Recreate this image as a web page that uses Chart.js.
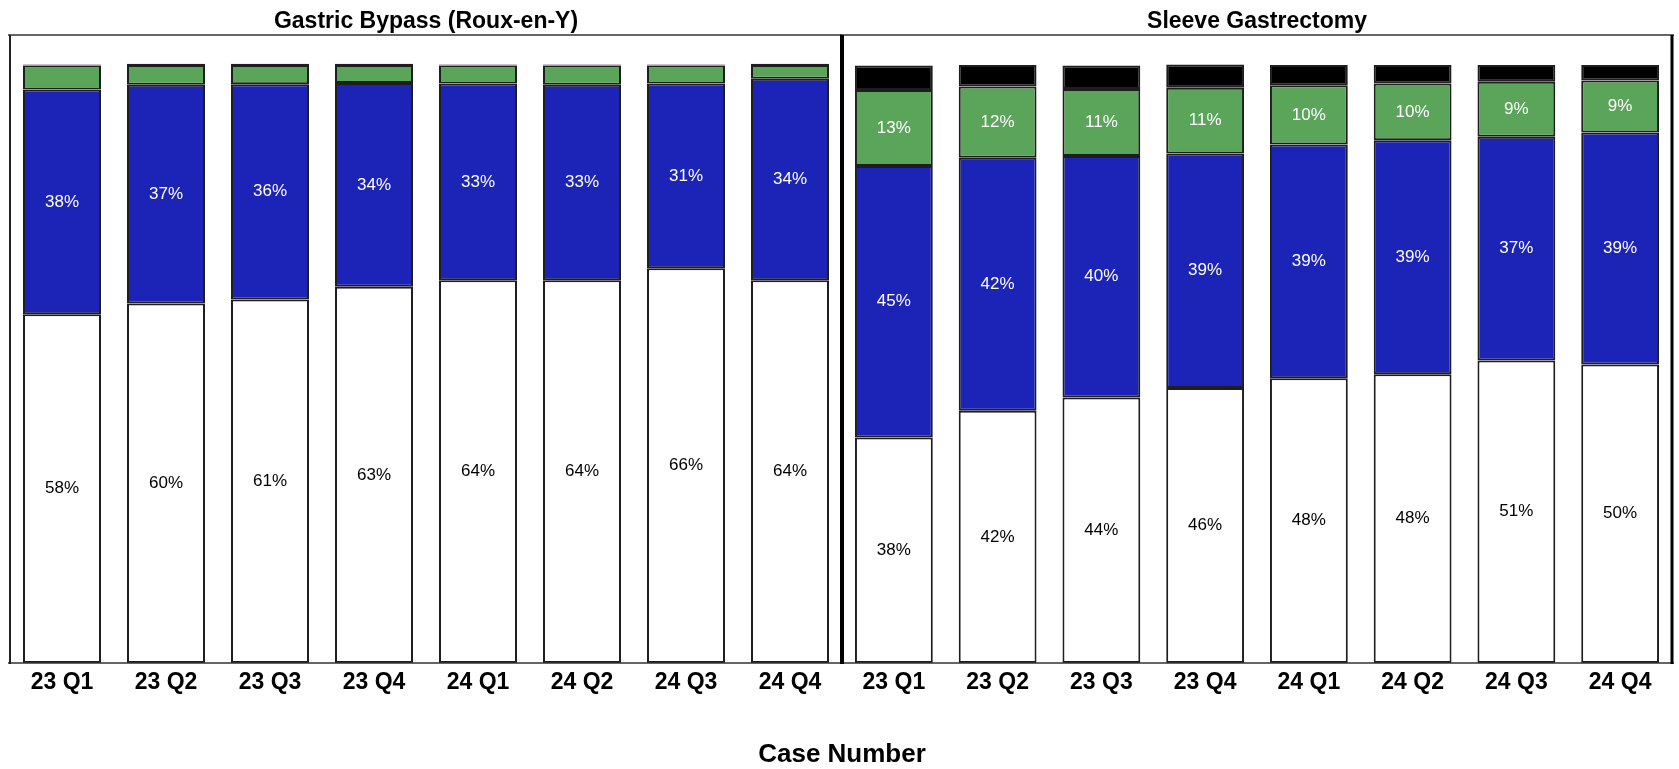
<!DOCTYPE html>
<html>
<head>
<meta charset="utf-8">
<script src="https://cdn.jsdelivr.net/npm/chart.js@4.4.1/dist/chart.umd.min.js"></script>
<style>
  body { margin: 0; background: #fff; width: 1679px; height: 769px; overflow: hidden; position: relative; }
  .panel { position: absolute; top: 0; height: 769px; }
  #leftWrap { left: 0; width: 842px; }
  #rightWrap { left: 840px; width: 839px; }
  #xTitle {
    position: absolute; left: 0; width: 1684px; top: 738px;
    text-align: center; font: bold 26px "Liberation Sans", Arial, sans-serif; color: #000;
  }
</style>
</head>
<body>
<div class="panel" id="leftWrap"><canvas id="bypass"></canvas></div>
<div class="panel" id="rightWrap"><canvas id="sleeve"></canvas></div>
<div id="xTitle">Case Number</div>
<script>
const FONT = '"Liberation Sans", Arial, sans-serif';

const quarters = ["23 Q1", "23 Q2", "23 Q3", "23 Q4", "24 Q1", "24 Q2", "24 Q3", "24 Q4"];

// Gastric Bypass (Roux-en-Y), bottom to top
const bypassWhite = [58.3, 60.1, 60.8, 62.9, 64.0, 64.0, 66.0, 64.0];
const bypassBlue = [37.6, 36.6, 36.0, 34.1, 32.9, 32.7, 30.9, 33.7];
const bypassGreen = [4.0, 3.3, 3.2, 3.0, 3.0, 3.2, 3.0, 2.3];
const bypassBlack = [0.2, 0.2, 0.2, 0.2, 0.2, 0.2, 0.2, 0.2];

// Sleeve Gastrectomy, bottom to top
const sleeveWhite = [37.7, 42.2, 44.4, 46.0, 47.6, 48.3, 50.6, 49.9];
const sleeveBlue = [45.4, 42.3, 40.4, 39.2, 39.1, 39.1, 37.4, 38.8];
const sleeveGreen = [12.7, 11.9, 11.2, 11.0, 9.9, 9.5, 9.2, 8.7];
const sleeveBlack = [4.1, 3.6, 3.9, 3.9, 3.4, 3.1, 2.8, 2.6];

const colors = ["#ffffff", "#1c24b8", "#5aa55a", "#000000"];
const labelColors = ["#000000", "#ffffff", "#ffffff", "#ffffff"];

// outline round the plot area, per side
const framePlugin = {
  id: "frame",
  afterDraw(chart, args, opts) {
    const { ctx, chartArea: a } = chart;
    const line = (x1, y1, x2, y2, color, w) => {
      ctx.beginPath();
      ctx.strokeStyle = color;
      ctx.lineWidth = w;
      ctx.moveTo(x1, y1);
      ctx.lineTo(x2, y2);
      ctx.stroke();
    };
    ctx.save();
    line(a.left - 2, a.top, a.right + 2, a.top, "#333", 1.5);
    line(a.left - 2, a.bottom, a.right + 2, a.bottom, "#333", 1.5);
    if (opts.left) line(a.left, a.top, a.left, a.bottom + 1, opts.left.color, opts.left.width);
    if (opts.right) line(a.right, a.top, a.right, a.bottom + 1, opts.right.color, opts.right.width);
    ctx.restore();
  },
};

// percent text in the middle of each labelled segment
const segmentLabels = {
  id: "segmentLabels",
  afterDatasetsDraw(chart, args, opts) {
    const ctx = chart.ctx;
    ctx.save();
    ctx.font = "17px " + FONT;
    ctx.textAlign = "center";
    ctx.textBaseline = "middle";
    opts.show.forEach((di) => {
      const meta = chart.getDatasetMeta(di);
      const values = chart.data.datasets[di].data;
      meta.data.forEach((bar, i) => {
        const { x, y, base } = bar.getProps(["x", "y", "base"], true);
        ctx.fillStyle = labelColors[di];
        ctx.fillText(Math.round(values[i]) + "%", x, (y + base) / 2);
      });
    });
    ctx.restore();
  },
};

function makeChart(id, title, series, show, padding, frame) {
  return new Chart(document.getElementById(id), {
    type: "bar",
    data: {
      labels: quarters,
      datasets: series.map((values, i) => ({
        data: values,
        backgroundColor: colors[i],
        borderColor: "#1e1e1e",
        borderWidth: 2,
        borderSkipped: false,
        barPercentage: 0.75,
        categoryPercentage: 1,
      })),
    },
    options: {
      responsive: true,
      maintainAspectRatio: false,
      animation: false,
      layout: { padding: padding },
      plugins: {
        legend: { display: false },
        tooltip: { enabled: false },
        title: {
          display: true,
          text: title,
          color: "#000",
          font: { family: FONT, size: 23, weight: "bold" },
          padding: { top: 7.5, bottom: 0 },
        },
        frame: frame,
        segmentLabels: { show: show },
      },
      scales: {
        x: {
          stacked: true,
          grid: { display: false, drawTicks: false },
          border: { display: false },
          ticks: {
            color: "#000",
            padding: 6,
            maxRotation: 0,
            autoSkip: false,
            font: { family: FONT, size: 23, weight: "bold" },
          },
        },
        y: { stacked: true, display: false, min: 0, max: 105 },
      },
    },
    plugins: [framePlugin, segmentLabels],
  });
}

makeChart(
  "bypass",
  "Gastric Bypass (Roux-en-Y)",
  [bypassWhite, bypassBlue, bypassGreen, bypassBlack],
  [0, 1],
  { left: 10, right: 0, top: 0, bottom: 66.4 },
  { left: { color: "#222", width: 2 } }
);

makeChart(
  "sleeve",
  "Sleeve Gastrectomy",
  [sleeveWhite, sleeveBlue, sleeveGreen, sleeveBlack],
  [0, 1, 2],
  { left: 2, right: 7, top: 0, bottom: 66.4 },
  { left: { color: "#000", width: 4 }, right: { color: "#000", width: 3 } }
);
</script>
</body>
</html>
